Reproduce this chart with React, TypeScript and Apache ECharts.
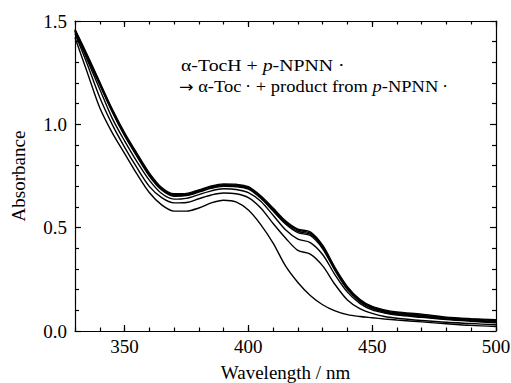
import React, { useEffect, useRef } from "react";
import * as echarts from "echarts";

const wavelengths = [330, 335, 340, 345, 350, 355, 360, 365, 370, 375, 380, 385, 390, 395, 400, 405, 410, 415, 420, 425, 430, 435, 440, 445, 450, 455, 460, 470, 480, 490, 500];

const curveA = [1.42, 1.25, 1.08, 0.96, 0.86, 0.76, 0.67, 0.61, 0.58, 0.58, 0.595, 0.62, 0.633, 0.625, 0.585, 0.515, 0.425, 0.315, 0.235, 0.172, 0.127, 0.097, 0.079, 0.07, 0.064, 0.058, 0.053, 0.044, 0.035, 0.027, 0.022];
const curveB = [1.44, 1.29, 1.13, 1.0, 0.89, 0.79, 0.7, 0.645, 0.62, 0.622, 0.64, 0.658, 0.668, 0.664, 0.645, 0.595, 0.52, 0.45, 0.39, 0.372, 0.315, 0.225, 0.15, 0.108, 0.085, 0.07, 0.062, 0.051, 0.042, 0.036, 0.03];
const curveC = [1.45, 1.31, 1.17, 1.03, 0.92, 0.82, 0.73, 0.665, 0.638, 0.642, 0.66, 0.678, 0.688, 0.685, 0.67, 0.628, 0.56, 0.49, 0.445, 0.428, 0.37, 0.272, 0.188, 0.134, 0.102, 0.087, 0.077, 0.066, 0.055, 0.047, 0.04];
const curveD1 = [1.45, 1.32, 1.19, 1.06, 0.945, 0.845, 0.75, 0.682, 0.652, 0.655, 0.672, 0.69, 0.7, 0.698, 0.686, 0.642, 0.58, 0.518, 0.476, 0.462, 0.398, 0.292, 0.2, 0.142, 0.108, 0.091, 0.081, 0.07, 0.058, 0.05, 0.043];
const curveD2 = [1.455, 1.325, 1.195, 1.065, 0.95, 0.85, 0.755, 0.686, 0.656, 0.658, 0.675, 0.694, 0.704, 0.702, 0.69, 0.646, 0.585, 0.523, 0.482, 0.468, 0.404, 0.297, 0.205, 0.146, 0.112, 0.094, 0.084, 0.073, 0.061, 0.053, 0.047];
const curveD3 = [1.455, 1.33, 1.2, 1.07, 0.955, 0.855, 0.76, 0.69, 0.66, 0.662, 0.679, 0.698, 0.708, 0.706, 0.694, 0.65, 0.59, 0.528, 0.488, 0.474, 0.41, 0.302, 0.21, 0.15, 0.115, 0.098, 0.088, 0.077, 0.064, 0.057, 0.051];
const curveD4 = [1.46, 1.335, 1.205, 1.075, 0.96, 0.86, 0.765, 0.694, 0.664, 0.666, 0.683, 0.702, 0.712, 0.71, 0.698, 0.654, 0.595, 0.533, 0.493, 0.48, 0.415, 0.307, 0.215, 0.154, 0.119, 0.102, 0.092, 0.081, 0.067, 0.06, 0.055];

const curves = [curveA, curveB, curveC, curveD1, curveD2, curveD3, curveD4];

const xMajorTicks = [350, 400, 450, 500];
const yTicks = [0, 0.5, 1.0, 1.5];

const annotationLine1 = "α-TocH + {i|p}-NPNN ·";
const annotationLine2 = "{a|→} α-Toc\u2009· + product from {i|p}-NPNN\u2009·";

const FONT = "'Liberation Serif', 'Times New Roman', serif";

export default function App() {
  const ref = useRef<HTMLDivElement>(null);
  useEffect(() => {
    if (!ref.current) return;
    const chart = echarts.init(ref.current, null, { renderer: "svg" });
    const axisLine = { show: true, onZero: false, lineStyle: { color: "#000", width: 1.2 } };
    const tickStyle = { color: "#000", width: 1.2 };
    const xBase = { type: "value", min: 330, max: 500, splitLine: { show: false } };
    const yBase = { type: "value", min: yTicks[0], max: yTicks[yTicks.length - 1], interval: 0.5, splitLine: { show: false } };
    const textStyle = (size: number) => ({
      fontSize: size,
      fontFamily: FONT,
      fill: "#000",
      verticalAlign: "middle",
      rich: {
        i: { fontStyle: "italic", fontSize: size, fontFamily: FONT, fill: "#000" },
        a: { fontSize: size - 1, fontFamily: "'DejaVu Sans', sans-serif", fill: "#000" },
      },
    });
    chart.setOption({
      animation: false,
      grid: { left: 75, right: 15, top: 21, bottom: 52, containLabel: false, outerBoundsMode: "none" },
      xAxis: [
        {
          ...xBase,
          position: "bottom",
          axisLine,
          axisTick: { show: true, inside: true, length: 6, customValues: xMajorTicks, lineStyle: tickStyle },
          axisLabel: { show: true, customValues: xMajorTicks, color: "#000", fontSize: 19, fontFamily: FONT, margin: 6 },
          name: "Wavelength / nm",
          nameLocation: "middle",
          nameGap: 32,
          nameTextStyle: { color: "#000", fontSize: 19, fontFamily: FONT },
        },
        {
          ...xBase,
          interval: 10,
          position: "bottom",
          axisLine: { show: false, onZero: false },
          axisTick: { show: true, inside: true, length: 3.5, lineStyle: tickStyle },
          axisLabel: { show: false },
        },
        {
          ...xBase,
          position: "top",
          axisLine,
          axisTick: { show: true, inside: true, length: 6, customValues: xMajorTicks, lineStyle: tickStyle },
          axisLabel: { show: false },
        },
        {
          ...xBase,
          interval: 10,
          position: "top",
          axisLine: { show: false, onZero: false },
          axisTick: { show: true, inside: true, length: 3.5, lineStyle: tickStyle },
          axisLabel: { show: false },
        },
      ],
      yAxis: [
        {
          ...yBase,
          position: "left",
          axisLine,
          axisTick: { show: true, inside: true, length: 6, lineStyle: tickStyle },
          minorTick: { show: true, splitNumber: 5, length: 4, lineStyle: tickStyle },
          axisLabel: { show: true, color: "#000", fontSize: 19, fontFamily: FONT, margin: 8, formatter: (v: number) => v.toFixed(1) },
          name: "Absorbance",
          nameLocation: "middle",
          nameGap: 47,
          nameTextStyle: { color: "#000", fontSize: 19, fontFamily: FONT },
        },
        {
          ...yBase,
          position: "right",
          axisLine,
          axisTick: { show: true, inside: true, length: 6, lineStyle: tickStyle },
          minorTick: { show: true, splitNumber: 5, length: 4, lineStyle: tickStyle },
          axisLabel: { show: false },
        },
      ],
      series: curves.map((c, i) => ({
        type: "line",
        xAxisIndex: 0,
        yAxisIndex: 0,
        data: wavelengths.map((w, j) => [w, c[j]]),
        showSymbol: false,
        smooth: 0.3,
        lineStyle: { color: "#000", width: 1.4 },
        z: 2 + i,
      })),
      graphic: [
        {
          type: "text",
          x: 181,
          y: 65.5,
          scaleX: 1.2,
          style: { text: annotationLine1, ...textStyle(16.5) },
        },
        {
          type: "text",
          x: 179,
          y: 86.5,
          scaleX: 1.12,
          style: { text: annotationLine2, ...textStyle(16.5) },
        },
      ],
    });
    return () => chart.dispose();
  }, []);
  return <div ref={ref} style={{ position: "fixed", left: 0, top: 0, width: 511, height: 383, background: "#fff" }} />;
}
